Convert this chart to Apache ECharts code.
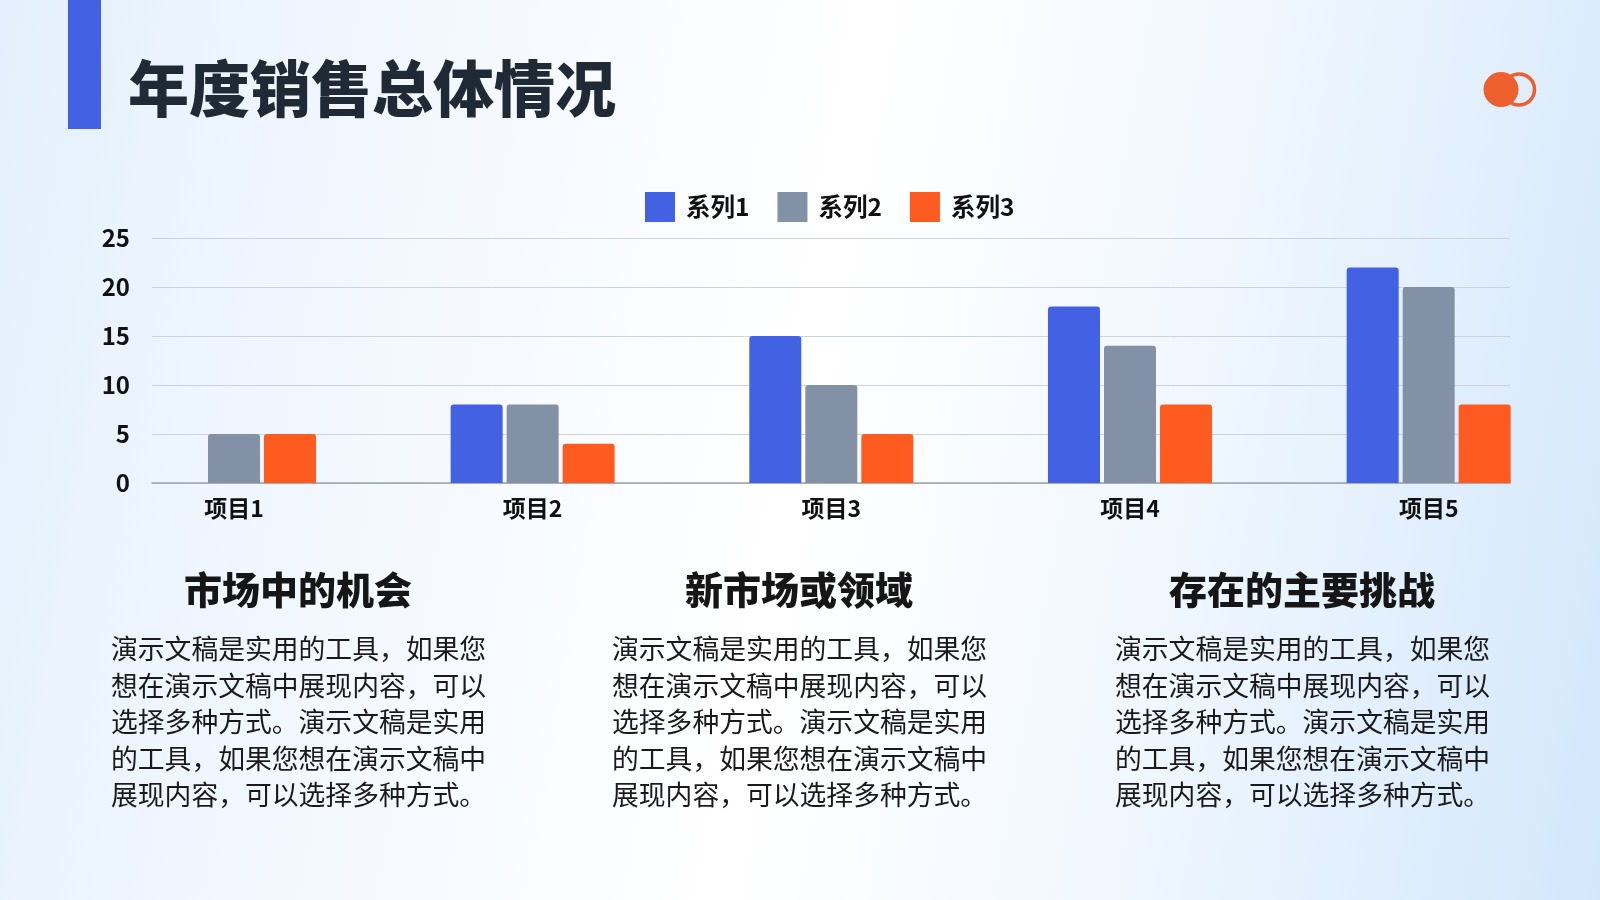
<!DOCTYPE html>
<html>
<head>
<meta charset="utf-8">
<script src="https://cdn.jsdelivr.net/npm/echarts@6/dist/echarts.min.js"></script>
<style>
html,body{margin:0;padding:0;width:1600px;height:900px;overflow:hidden;}
body{background:linear-gradient(100deg,#e4f0fd 0%,#f3f8ff 25%,#ffffff 50%,#f2f8ff 70%,#d3e7fb 100%);}
#chart{width:1600px;height:900px;}
</style>
</head>
<body>
<div id="chart"></div>
<script>
const categories = ['项目1','项目2','项目3','项目4','项目5'];
const seriesNames = ['系列1','系列2','系列3'];
const series1 = [0, 8, 15, 18, 22];
const series2 = [5, 8, 10, 14, 20];
const series3 = [5, 4, 5, 8, 8];
const yTicks = [0, 5, 10, 15, 20, 25];
const titleText = '年度销售总体情况';
const sectionTitles = ['市场中的机会','新市场或领域','存在的主要挑战'];
const bodyLines = [
  '演示文稿是实用的工具，如果您',
  '想在演示文稿中展现内容，可以',
  '选择多种方式。演示文稿是实用',
  '的工具，如果您想在演示文稿中',
  '展现内容，可以选择多种方式。'
];
const colors = ['#4361E3','#8391A7','#FF5A1F'];

const FONT = '"Noto Sans CJK SC","Noto Sans",sans-serif';
const chart = echarts.init(document.getElementById('chart'), null, {renderer:'canvas'});

const colX = [111, 612, 1115];
const headCX = [298, 799, 1302];
const graphics = [
  {type:'rect', shape:{x:68,y:0,width:33,height:129}, style:{fill:'#4361E3'}},
  {type:'text', x:128, y:89, style:{text:titleText, font:'900 61px '+FONT, fill:'#1f2a36', textVerticalAlign:'middle'}},
  {type:'circle', shape:{cx:1519, cy:89.5, r:15.5}, style:{fill:'none', stroke:'#EE5F2E', lineWidth:3.5}},
  {type:'circle', shape:{cx:1501, cy:89.5, r:17.5}, style:{fill:'#EE5F2E'}}
];
for (let i=0;i<3;i++){
  graphics.push({type:'text', x:headCX[i], y:590, style:{text:sectionTitles[i], font:'900 38px '+FONT, letterSpacing:1.5, fill:'#161616', textAlign:'center', textVerticalAlign:'middle'}});
  graphics.push({type:'text', x:colX[i], y:631, style:{text:bodyLines.join('\n'), font:'400 26.8px '+FONT, lineHeight:36.5, fill:'#1a1a1a', textVerticalAlign:'top'}});
}

const option = {
  animation:false,
  color: colors,
  textStyle:{fontFamily:FONT},
  legend:{
    data: seriesNames,
    left:640, top:187,
    itemWidth:30, itemHeight:30, itemGap:28, icon:'rect',
    textStyle:{fontSize:24.5, fontWeight:'bold', color:'#111', fontFamily:FONT, padding:[0,0,0,6]}
  },
  grid:[
    {left:152, right:90, top:238, height:245},
    {left:84.65, right:22, top:238, height:245}
  ],
  xAxis:[
    {gridIndex:0, type:'category', data:categories, axisLine:{show:true, lineStyle:{color:'#9aa3ad', width:1.5}}, axisTick:{show:false}, axisLabel:{show:false}, splitLine:{show:false}},
    {gridIndex:1, type:'category', data:categories, axisLine:{show:false}, axisTick:{show:false},
     axisLabel:{fontSize:23, fontWeight:'bold', color:'#111', margin:14, fontFamily:FONT}}
  ],
  yAxis:[
    {gridIndex:0, type:'value', min:yTicks[0], max:yTicks[yTicks.length-1], interval:yTicks[1]-yTicks[0],
     axisLine:{show:false}, axisTick:{show:false},
     axisLabel:{fontSize:24, fontWeight:'bold', color:'#111', margin:22, fontFamily:FONT},
     splitLine:{lineStyle:{color:'#cbd3dc', width:1}}},
    {gridIndex:1, type:'value', min:yTicks[0], max:yTicks[yTicks.length-1], interval:yTicks[1]-yTicks[0], show:false, splitLine:{show:false}}
  ],
  series:[
    {name:seriesNames[0], type:'bar', xAxisIndex:1, yAxisIndex:1, data:series1, barWidth:52, barGap:'7.7%', itemStyle:{borderRadius:[3,3,0,0]}},
    {name:seriesNames[1], type:'bar', xAxisIndex:1, yAxisIndex:1, data:series2, barWidth:52, barGap:'7.7%', itemStyle:{borderRadius:[3,3,0,0]}},
    {name:seriesNames[2], type:'bar', xAxisIndex:1, yAxisIndex:1, data:series3, barWidth:52, barGap:'7.7%', itemStyle:{borderRadius:[3,3,0,0]}}
  ],
  graphic: graphics
};
chart.setOption(option);
</script>
</body>
</html>
